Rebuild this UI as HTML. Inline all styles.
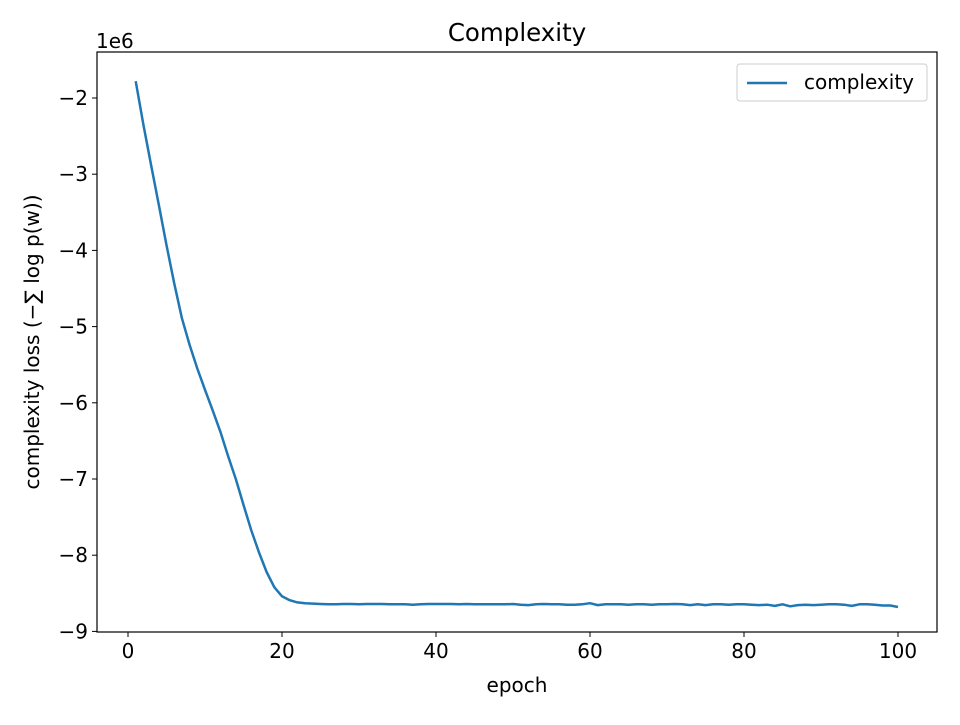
<!DOCTYPE html>
<html><head><meta charset="utf-8"><style>
body{margin:0;background:#fff;}
text{font-family:"DejaVu Sans","Liberation Sans",sans-serif;fill:#000;}
</style></head><body>
<svg id="chart" width="960" height="720" xmlns="http://www.w3.org/2000/svg">
<rect width="960" height="720" fill="#fff"/>
<text x="517" y="41" font-size="24.5" text-anchor="middle">Complexity</text>
<text x="96" y="48" font-size="20">1e6</text>
<text x="517" y="692" font-size="20" text-anchor="middle">epoch</text>
<text transform="translate(39,342) rotate(-90)" font-size="20" text-anchor="middle">complexity loss (−∑ log p(w))</text>
<g id="ticks"></g>
<path id="line" fill="none" stroke="#1f77b4" stroke-width="2.5" stroke-linejoin="round"/>
<rect x="97" y="52" width="840" height="580" fill="none" stroke="#000" stroke-width="1.2"/>
<g>
<rect x="737" y="64" width="190" height="37" rx="3" fill="#fff" stroke="#ccc"/>
<line x1="747" y1="83" x2="787" y2="83" stroke="#1f77b4" stroke-width="2.5"/>
<text x="804" y="89" font-size="20">complexity</text>
</g>
</svg>
<script>
const epochs=[];for(let i=1;i<=100;i++)epochs.push(i);
const values=[-1.78,-2.35,-2.88,-3.4,-3.93,-4.43,-4.89,-5.24,-5.55,-5.83,-6.1,-6.38,-6.7,-7.0,-7.34,-7.67,-7.96,-8.22,-8.42,-8.54,-8.59,-8.62,-8.63,-8.635,-8.64,-8.645,-8.645,-8.64,-8.64,-8.645,-8.64,-8.64,-8.64,-8.645,-8.645,-8.645,-8.65,-8.645,-8.64,-8.64,-8.64,-8.64,-8.645,-8.64,-8.645,-8.645,-8.645,-8.645,-8.645,-8.64,-8.65,-8.655,-8.645,-8.64,-8.645,-8.645,-8.65,-8.65,-8.645,-8.63,-8.655,-8.645,-8.645,-8.645,-8.65,-8.645,-8.645,-8.65,-8.645,-8.645,-8.64,-8.645,-8.655,-8.645,-8.655,-8.645,-8.645,-8.65,-8.645,-8.645,-8.65,-8.655,-8.65,-8.665,-8.645,-8.67,-8.655,-8.65,-8.655,-8.65,-8.645,-8.645,-8.65,-8.665,-8.645,-8.645,-8.65,-8.66,-8.66,-8.68];
const xTicks=[0,20,40,60,80,100];
const yTicks=[-2,-3,-4,-5,-6,-7,-8,-9];
const X=v=>128+v*7.7;
const Y=v=>98+(-2-v)*76.2;
const NS="http://www.w3.org/2000/svg";
const g=document.getElementById('ticks');
function mk(t,a){const e=document.createElementNS(NS,t);for(const k in a)e.setAttribute(k,a[k]);g.appendChild(e);return e;}
xTicks.forEach(t=>{
 const l=mk('line',{x1:X(t),x2:X(t),y1:632,y2:637,stroke:'#000'});
 
 
 const tx=mk('text',{x:X(t),y:658,'font-size':20,'text-anchor':'middle'});tx.textContent=t;
 
 
});
yTicks.forEach(t=>{
 const l=mk('line',{x1:92,x2:97,y1:Y(t),y2:Y(t),stroke:'#000'});
 
 
 const tx=mk('text',{x:88,y:Y(t)+7,'font-size':20,'text-anchor':'end'});tx.textContent='−'+Math.abs(t);
 
 
});
document.getElementById('line').setAttribute('d',values.map((v,i)=>(i?'L':'M')+X(epochs[i]).toFixed(1)+','+Y(v).toFixed(1)).join(''));
</script>
</body></html>
